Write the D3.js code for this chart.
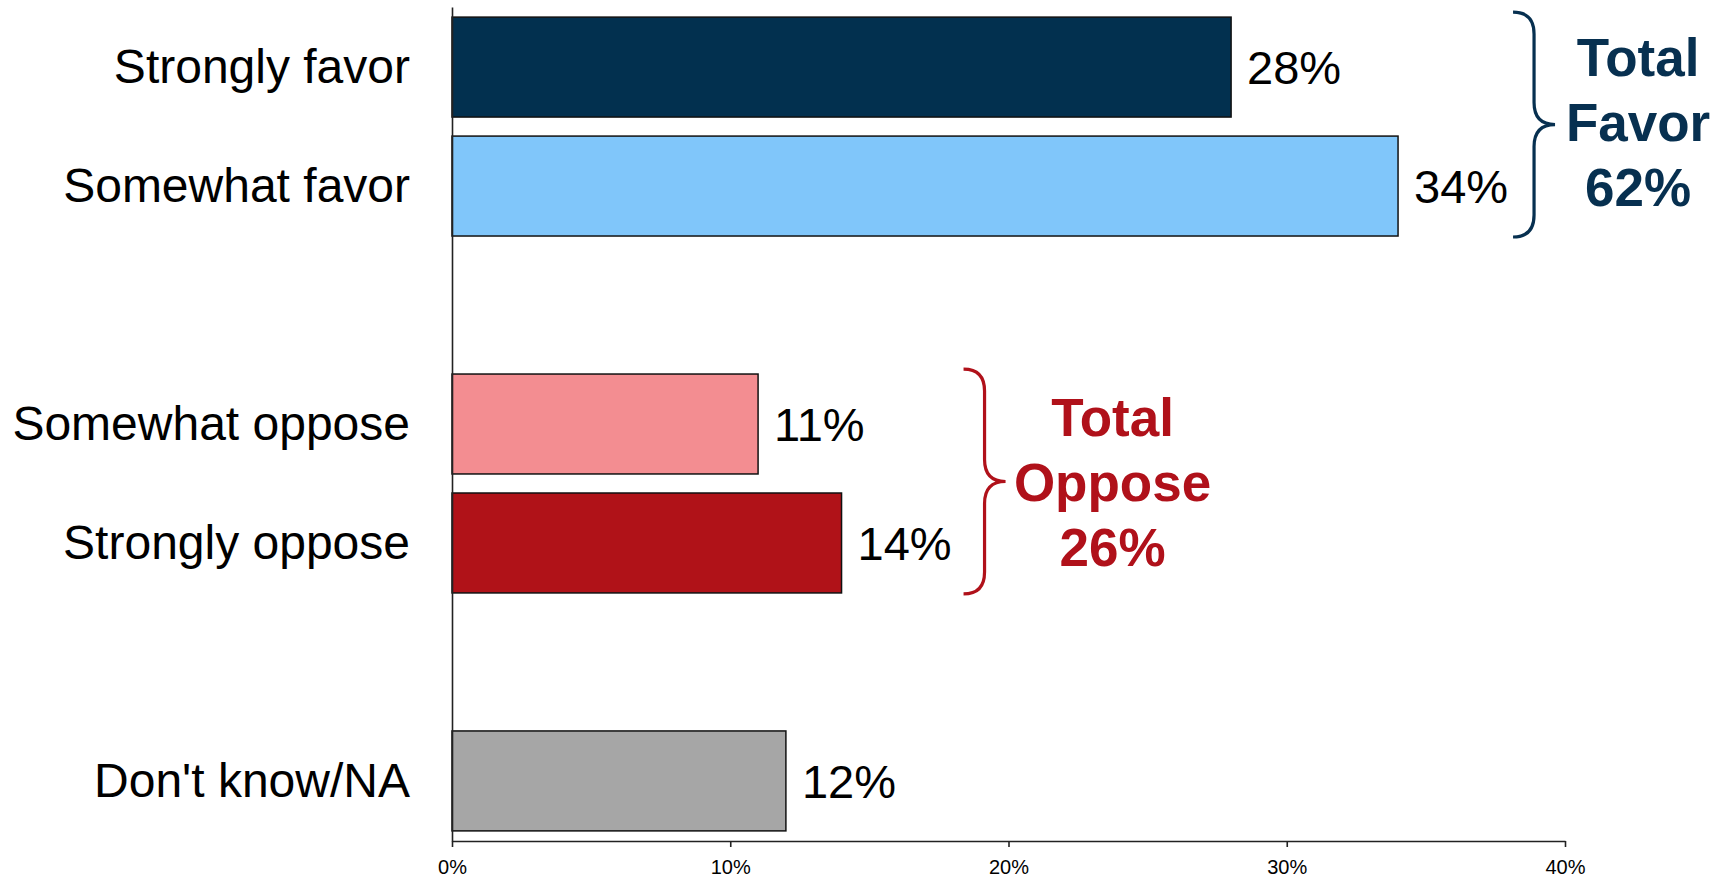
<!DOCTYPE html>
<html>
<head>
<meta charset="utf-8">
<script src="https://cdn.jsdelivr.net/npm/d3@7"></script>
<style>
    body { margin: 0; background: #fff; }
    svg { display: block; font-family: "Liberation Sans", Arial, sans-serif; }
</style>
</head>
<body>
<svg id="chart" width="1721" height="877"></svg>
<script>
// slots in the band scale; the gap slots stay empty
let slots = ['sf', 'swf', 'gap1', 'swo', 'so', 'gap2', 'dk']
let categories = ['sf', 'swf', 'swo', 'so', 'dk']
let labels = ['Strongly favor', 'Somewhat favor', 'Somewhat oppose', 'Strongly oppose', "Don't know/NA"]
let values = [28, 34, 11, 14, 12]
let bar_colors = ['#02304f', '#80c6fa', '#f38d91', '#b01218', '#a6a6a6']
let x_ticks = [0, 10, 20, 30, 40]

let group_names = ['favor', 'oppose']
let group_members = [['sf', 'swf'], ['swo', 'so']]
let group_text = [['Total', 'Favor', '62%'], ['Total', 'Oppose', '26%']]
let group_colors = ['#073050', '#b0111a']

let xpad_l = 452
let xpad_r = 156
let ypad_t = 7
let ypad_b = 36

let svg = d3.select('#chart')
let width = +svg.attr('width')
let height = +svg.attr('height')

let x = d3.scaleLinear()
    .domain([0, 40])
    .range([xpad_l, width - xpad_r])

let y = d3.scaleBand()
    .domain(slots)
    .range([ypad_t, height - ypad_b])
    .paddingInner(0.16)
    .paddingOuter(0.085)

let data = categories.map((c, i) => ({
    key: c,
    label: labels[i],
    value: values[i],
    color: bar_colors[i]
}))

//Bars
svg.append('g')
    .selectAll('rect')
    .data(data)
    .join('rect')
    .attr('x', x(0))
    .attr('y', d => y(d.key))
    .attr('width', d => x(d.value) - x(0))
    .attr('height', y.bandwidth())
    .attr('fill', d => d.color)
    .attr('stroke', '#111')
    .attr('stroke-width', 1.5)

//Value labels
svg.append('g')
    .selectAll('text')
    .data(data)
    .join('text')
    .attr('x', d => x(d.value) + 16)
    .attr('y', d => y(d.key) + y.bandwidth() / 2)
    .attr('dy', '0.37em')
    .style('font-size', '47px')
    .attr('fill', '#000')
    .text(d => d.value + '%')

//Bottom axis
let x_axis = svg.append('g')
    .attr('transform', `translate(0, ${height - ypad_b})`)
    .call(d3.axisBottom(x)
        .tickValues(x_ticks)
        .tickFormat(d => d + '%')
        .tickSize(6)
        .tickSizeOuter(0)
        .tickPadding(13))
x_axis.selectAll('text')
    .style('font-size', '20px')
    .style('font-family', '"Liberation Sans", Arial, sans-serif')
    .attr('fill', '#000')
x_axis.selectAll('path, line')
    .attr('stroke', '#222')
    .attr('stroke-width', 1.6)

//Left axis with category labels
let y_axis = svg.append('g')
    .attr('transform', `translate(${x(0)}, 0)`)
    .call(d3.axisLeft(y)
        .tickValues(categories)
        .tickFormat(k => labels[categories.indexOf(k)])
        .tickSize(0)
        .tickPadding(42))
y_axis.selectAll('text')
    .style('font-size', '48px')
    .style('font-family', '"Liberation Sans", Arial, sans-serif')
    .attr('fill', '#000')
    .attr('dy', '0.34em')
y_axis.select('path')
    .attr('stroke', '#222')
    .attr('stroke-width', 1.6)

/**
 * Curly brace opening to the left, tip pointing right
 */
function brace_path(x0, top, bottom, w, r) {
    let mid = (top + bottom) / 2
    let x1 = x0 + w
    let x2 = x1 + w
    let p = d3.path()
    p.moveTo(x0, top)
    p.quadraticCurveTo(x1, top, x1, top + r)
    p.lineTo(x1, mid - r)
    p.quadraticCurveTo(x1, mid, x2, mid)
    p.quadraticCurveTo(x1, mid, x1, mid + r)
    p.lineTo(x1, bottom - r)
    p.quadraticCurveTo(x1, bottom, x0, bottom)
    return p.toString()
}

let brace_offset = { 'favor': 115, 'oppose': 122 }
let text_offset = { 'favor': 83, 'oppose': 107 }
let text_shift = { 'favor': -3, 'oppose': 0 }

group_names.forEach((g, i) => {
    let members = group_members[i]
    let vmax = d3.max(data.filter(d => members.includes(d.key)), d => d.value)
    let top = y(members[0]) - 5
    let bottom = y(members[members.length - 1]) + y.bandwidth() + 1
    let x0 = x(vmax) + brace_offset[g]
    let w = 21

    svg.append('path')
        .attr('d', brace_path(x0, top, bottom, w, 22))
        .attr('fill', 'none')
        .attr('stroke', group_colors[i])
        .attr('stroke-width', 3.2)

    let cx = x0 + 2 * w + text_offset[g]
    let mid = (top + bottom) / 2 + text_shift[g]
    let line_h = 65

    svg.append('g')
        .selectAll('text')
        .data(group_text[i])
        .join('text')
        .attr('x', cx)
        .attr('y', (d, j) => mid + (j - 1) * line_h)
        .attr('dy', '0.36em')
        .attr('text-anchor', 'middle')
        .style('font-size', '53px')
        .style('font-weight', 'bold')
        .attr('fill', group_colors[i])
        .text(d => d)
})
</script>
</body>
</html>
